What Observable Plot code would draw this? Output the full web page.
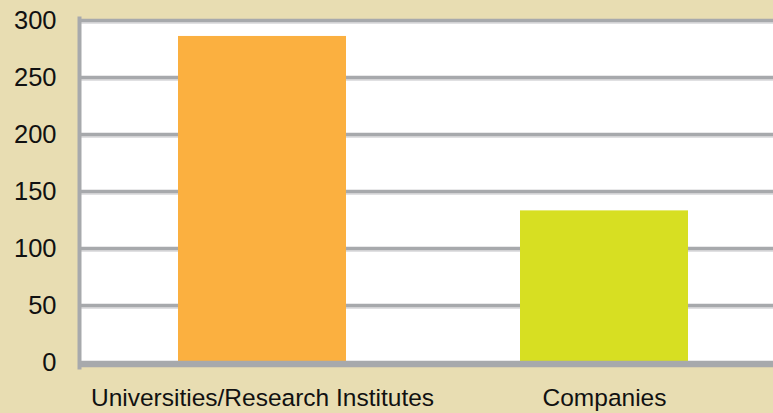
<!DOCTYPE html>
<html>
<head>
<meta charset="utf-8">
<script src="https://cdn.jsdelivr.net/npm/d3@7"></script>
<script src="https://cdn.jsdelivr.net/npm/@observablehq/plot@0.6"></script>
<style>
  html, body { margin: 0; padding: 0; background: #e8ddb2; }
  #chart svg { display: block; }
</style>
</head>
<body>
<div id="chart"></div>
<script>
const categories = ["Universities/Research Institutes", "Companies"];
const values = [286, 133];
const barColors = ["#fbb040", "#d7df22"];
const yTicks = [0, 50, 100, 150, 200, 250, 300];

const data = categories.map((c, i) => ({category: c, value: values[i]}));
const gridTicks = yTicks.filter(d => d > 0);

const chart = Plot.plot({
  width: 773,
  height: 413,
  marginLeft: 79,
  marginRight: 0,
  marginTop: 20,
  marginBottom: 51,
  style: {
    background: "#e8ddb2",
    fontFamily: "'Liberation Sans', Arial, Helvetica, sans-serif",
    fontSize: "25px",
    color: "#111"
  },
  x: {domain: categories, range: [90, 775], paddingInner: 0.51, paddingOuter: 0.255, label: null},
  y: {domain: [0, 300], ticks: yTicks, label: null},
  color: {domain: categories, range: barColors},
  marks: [
    Plot.frame({fill: "white", stroke: null}),
    Plot.ruleY(gridTicks, {stroke: "#d6d6d8", strokeWidth: 1.5, dy: 2.5}),
    Plot.ruleY(gridTicks, {stroke: "#a7a9ac", strokeWidth: 3.5}),
    Plot.barY(data, {x: "category", y: "value", fill: "category"}),
    Plot.ruleY([0], {stroke: "#a7a9ac", strokeWidth: 6.5, dy: 1.5}),
    Plot.frame({anchor: "left", stroke: "#a7a9ac", strokeWidth: 4, insetTop: -2, insetBottom: -5}),
    Plot.axisY({ticks: yTicks, tickSize: 0, tickPadding: 23, fontSize: 25.5}),
    Plot.axisX({tickSize: 0, tickPadding: 26, fontSize: 24.5})
  ]
});
document.getElementById("chart").appendChild(chart);
</script>
</body>
</html>
